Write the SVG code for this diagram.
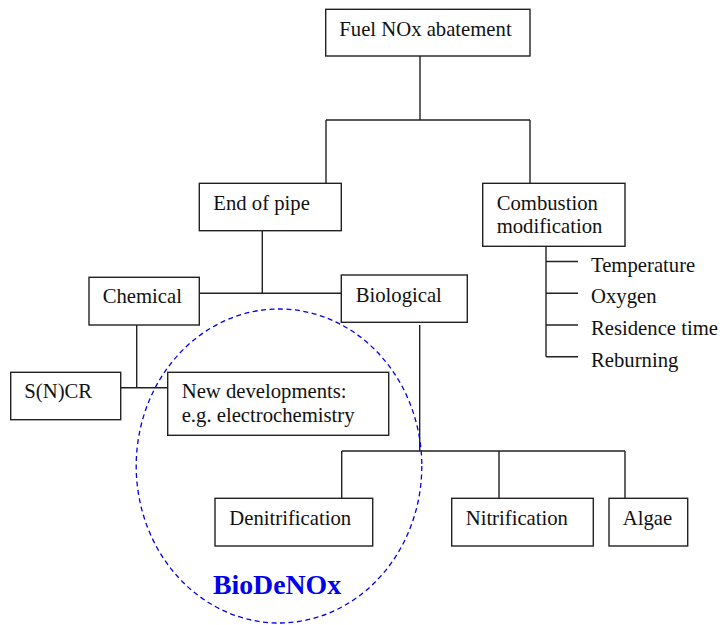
<svg xmlns="http://www.w3.org/2000/svg" width="720" height="625" viewBox="0 0 720 625">
<style>
.box{fill:#fff;stroke:#222;stroke-width:1.4}
.ln{stroke:#222;stroke-width:1.4;fill:none}
text{font-family:"Liberation Serif","Times New Roman",serif;font-size:20.7px;fill:#111}
.bio{font-weight:bold;fill:#0000ee;font-size:27.8px}
</style>
<rect width="720" height="625" fill="#fff"/>
<g id="connectors" class="ln">
<path d="M420,56V120M326,120H530M326,120V183.3M530,120V183.3"/>
<path d="M262.3,230.7V293.3M199.3,293.3H341.3"/>
<path d="M546,246.3V356.7M546,261.5H578M546,293.3H578M546,325H578M546,356.7H578"/>
<path d="M136.7,325V387.7M120.7,387.7H167.7"/>
<path d="M419.7,325V451M341.7,451H625M341.7,451V498.3M499,451V498.3M625,451V498.3"/>
</g>
<g id="biodenox">
<ellipse cx="279" cy="466" rx="142.8" ry="157" fill="none" stroke="#0000ee" stroke-width="1.3" stroke-dasharray="5,3.5"/>
<text class="bio" x="277" y="593.5" text-anchor="middle">BioDeNOx</text>
</g>
<g id="fuel"><rect class="box" x="325.7" y="9.3" width="204.3" height="46.7"/><text x="339.3" y="35.7">Fuel NOx abatement</text></g>
<g id="endofpipe"><rect class="box" x="199.3" y="183.3" width="142" height="47.4"/><text x="213.3" y="210">End of pipe</text></g>
<g id="combustion"><rect class="box" x="482.7" y="183.3" width="142.3" height="63"/><text x="496.7" y="210">Combustion</text><text x="496.7" y="233.3">modification</text></g>
<g id="temperature"><text x="591" y="271.5">Temperature</text></g>
<g id="oxygen"><text x="591" y="303.3">Oxygen</text></g>
<g id="residence"><text x="591" y="335">Residence time</text></g>
<g id="reburning"><text x="591" y="366.7">Reburning</text></g>
<g id="chemical"><rect class="box" x="89" y="277.3" width="110.3" height="47.7"/><text x="102.7" y="303.3">Chemical</text></g>
<g id="biological"><rect class="box" x="341.3" y="275" width="126" height="47.3"/><text x="355.7" y="302">Biological</text></g>
<g id="sncr"><rect class="box" x="10.7" y="372.3" width="110" height="47.4"/><text x="24.3" y="398.3">S(N)CR</text></g>
<g id="newdev"><rect class="box" x="167.7" y="372.3" width="221" height="63"/><text x="181.7" y="398.3">New developments:</text><text x="181.7" y="421.7">e.g. electrochemistry</text></g>
<g id="denitrification"><rect class="box" x="215" y="498.3" width="157.7" height="47.7"/><text x="229.3" y="524.5">Denitrification</text></g>
<g id="nitrification"><rect class="box" x="451.7" y="498.3" width="141.6" height="47.7"/><text x="465.7" y="524.5">Nitrification</text></g>
<g id="algae"><rect class="box" x="609" y="498.3" width="78.7" height="47.7"/><text x="622.7" y="524.5">Algae</text></g>
</svg>
